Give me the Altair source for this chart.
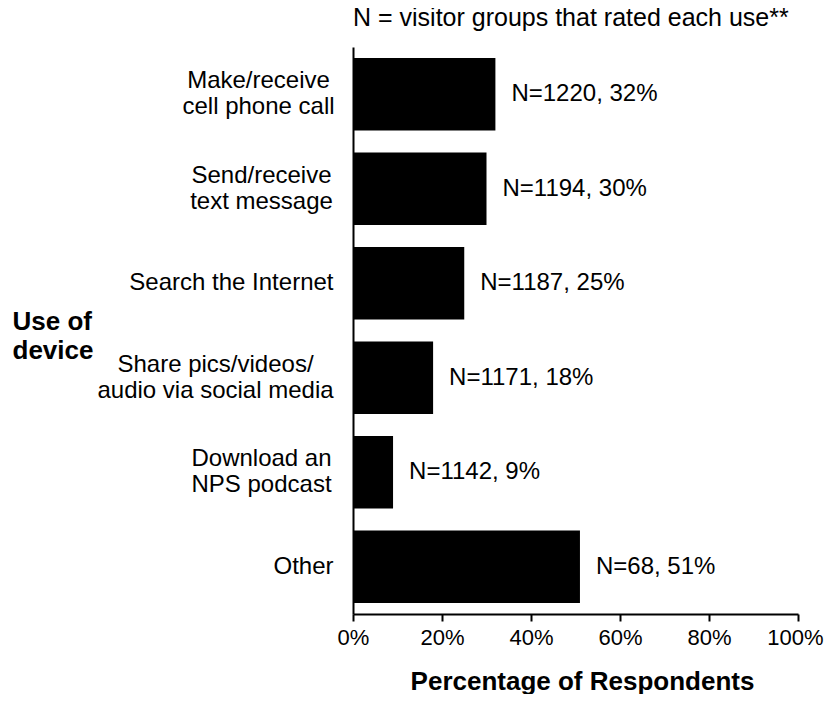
import altair as alt
import pandas as pd

uses = [
    "Make/receive\ncell phone call",
    "Send/receive\ntext message",
    "Search the Internet",
    "Share pics/videos/\naudio via social media",
    "Download an\nNPS podcast",
    "Other",
]
pct = [32, 30, 25, 18, 9, 51]
n_groups = [1220, 1194, 1187, 1171, 1142, 68]
x_ticks = [0, 0.2, 0.4, 0.6, 0.8, 1.0]

df = pd.DataFrame({
    "use": uses,
    "pct": [p / 100 for p in pct],
    "label": [f"N={n}, {p}%" for n, p in zip(n_groups, pct)],
})

FONT = "Liberation Sans, Arial"

# multi-line labels are centred on themselves (as in the original)
centre_pad = {uses[0]: 95, uses[1]: 92, uses[3]: 138, uses[4]: 92}
multi_test = "indexof(datum.value, '\\n') >= 0"


def js_str(s):
    return "'" + s.replace("\\", "\\\\").replace("\n", "\\n").replace("'", "\\'") + "'"


pad_cond = {
    "condition": [
        {"test": f"datum.value == {js_str(k)}", "value": v} for k, v in centre_pad.items()
    ],
    "value": 20,
}

y_enc = alt.Y(
    "use:N",
    sort=uses,
    scale=alt.Scale(paddingInner=0.233, paddingOuter=0.116),
    axis=alt.Axis(
        title=["Use of", "device"],
        titleAngle=0,
        titleAlign="left",
        titleBaseline="middle",
        titleX=-341,
        titleY=274,
        titleLineHeight=29,
        titleFont=FONT,
        titleFontSize=26,
        titleFontWeight="bold",
        titleColor="black",
        labelExpr="split(datum.label, '\\n')",
        labelFont=FONT,
        labelFontSize=24,
        labelColor="black",
        labelLineHeight=26,
        labelPadding=pad_cond,
        labelAlign={"condition": {"test": multi_test, "value": "center"}, "value": "right"},
        labelOffset={"condition": {"test": multi_test, "value": -13}, "value": 0},
        labelLimit=400,
        ticks=False,
        domainColor="black",
        domainWidth=2,
    ),
)

x_enc = alt.X(
    "pct:Q",
    scale=alt.Scale(domain=[0, 1]),
    axis=alt.Axis(
        title="Percentage of Respondents",
        format=".0%",
        values=x_ticks,
        grid=False,
        tickColor="black",
        tickSize=7,
        tickWidth=2,
        domainColor="black",
        domainWidth=2,
        labelFont=FONT,
        labelFontSize=22,
        labelColor="black",
        labelPadding=6,
        labelFlush=False,
        labelOffset={"condition": {"test": "datum.value >= 1", "value": -3}, "value": 0},
        titleFont=FONT,
        titleFontSize=26,
        titleFontWeight="bold",
        titleColor="black",
        titleBaseline="alphabetic",
        titleY=75,
        titleX=229,
    ),
)

bars = alt.Chart(df).mark_bar(color="black").encode(y=y_enc, x=x_enc)

labels = alt.Chart(df).mark_text(
    align="left", baseline="middle", dx=16, font=FONT, fontSize=24, color="black"
).encode(y=alt.Y("use:N", sort=uses), x="pct:Q", text="label:N")

chart = (
    alt.layer(bars, labels)
    .properties(
        width=445,
        height=567,
        autosize=alt.AutoSizeParams(type="none"),
        padding={"left": 345, "top": 39, "right": 26, "bottom": 80},
        title=alt.TitleParams(
            "N = visitor groups that rated each use**",
            anchor="start",
            frame="group",
            baseline="alphabetic",
            offset=20,
            dy=24,
            font=FONT,
            fontSize=25,
            fontWeight="normal",
            color="black",
        ),
    )
    .configure_view(stroke=None)
)

chart.save("out.html", embed_options={"renderer": "svg", "actions": False})
